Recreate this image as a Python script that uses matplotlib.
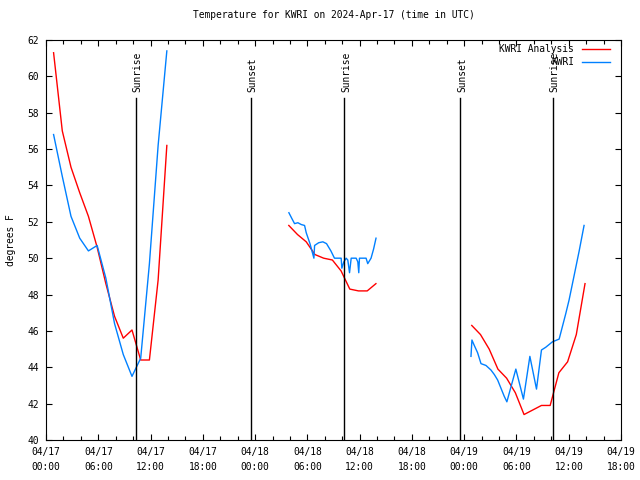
import numpy as np
import pandas as pd
import matplotlib
matplotlib.use("Agg")
import matplotlib.pyplot as plt
import matplotlib.dates as mdates

plt.rcParams['font.family'] = ['DejaVu Sans Mono']
plt.rcParams['font.size'] = 6.9

base = pd.Timestamp('2024-04-17 00:00')

# hours since 04/17 00:00 UTC
ana_h1 = [0.87, 1.87, 2.87, 3.87, 4.87, 5.87, 6.87, 7.87, 8.87, 9.87, 10.87, 11.87, 12.87, 13.87]
ana_t1 = [61.3, 57.0, 55.0, 53.6, 52.3, 50.6, 48.6, 46.8, 45.6, 46.05, 44.4, 44.4, 48.8, 56.2]
ana_h2 = [27.87, 28.87, 29.87, 30.87, 31.87, 32.87, 33.87, 34.87, 35.87, 36.87, 37.87]
ana_t2 = [51.8, 51.3, 50.9, 50.2, 50.0, 49.9, 49.3, 48.3, 48.2, 48.2, 48.6]
ana_h3 = [48.87, 49.87, 50.87, 51.87, 52.87, 53.87, 54.87, 55.87, 56.87, 57.87, 58.87, 59.87, 60.87, 61.87]
ana_t3 = [46.3, 45.8, 45.0, 43.9, 43.4, 42.6, 41.4, 41.65, 41.9, 41.9, 43.7, 44.3, 45.8, 48.6]

obs_h1 = [0.87, 1.87, 2.87, 3.87, 4.87, 5.87, 6.87, 7.87, 8.87, 9.87, 10.87, 11.87, 12.87, 13.87]
obs_t1 = [56.8, 54.5, 52.3, 51.1, 50.4, 50.7, 48.9, 46.4, 44.7, 43.5, 44.5, 49.7, 56.2, 61.4]
obs_h2 = [27.88, 28.2, 28.53, 28.91, 29.3, 29.68, 29.87, 30.3, 30.75, 30.83, 31.3, 31.78, 32.2,
          32.7, 33.11, 33.5, 33.88, 33.96, 34.19, 34.45, 34.64, 34.84, 35.03, 35.6, 35.79,
          35.9, 35.98, 36.74, 36.93, 37.31, 37.6, 37.88]
obs_t2 = [52.5, 52.2, 51.9, 51.95, 51.85, 51.8, 51.4, 50.8, 50.0, 50.7, 50.85, 50.9, 50.8,
          50.4, 50.0, 50.0, 50.0, 49.45, 49.8, 50.0, 49.9, 49.2, 50.0, 50.0, 49.8,
          49.2, 50.0, 50.0, 49.7, 50.0, 50.5, 51.1]
obs_h3 = [48.78, 48.89, 49.16, 49.54, 49.93, 50.5, 51.07, 51.46, 51.84, 52.22, 52.6, 52.9,
          53.93, 54.8, 55.54, 56.3, 56.87, 57.36, 58.13, 58.9, 59.66, 60.04, 60.6, 61.2, 61.76]
obs_t3 = [44.6, 45.5, 45.2, 44.8, 44.2, 44.1, 43.85, 43.6, 43.3, 42.85, 42.4, 42.1,
          43.9, 42.25, 44.6, 42.8, 44.95, 45.1, 45.4, 45.55, 46.95, 47.7, 49.0, 50.4, 51.8]

sun_h = [10.31, 23.49, 34.26, 47.55, 58.21]
sun_lbl = ['Sunrise', 'Sunset', 'Sunrise', 'Sunset', 'Sunrise']


def tt(h):
    return base + pd.to_timedelta(np.array(h), unit='h')


fig = plt.figure(figsize=(6.4, 4.8), dpi=100)
ax = fig.add_axes([46 / 640, 40 / 480, 575 / 640, 400 / 480])

for h, t in [(ana_h1, ana_t1), (ana_h2, ana_t2), (ana_h3, ana_t3)]:
    ax.plot(tt(h), t, color='#ff0000', lw=1.0)
for h, t in [(obs_h1, obs_t1), (obs_h2, obs_t2), (obs_h3, obs_t3)]:
    ax.plot(tt(h), t, color='#0080ff', lw=1.0)

for h, lb in zip(sun_h, sun_lbl):
    x = tt([h])[0]
    ax.plot([x, x], [40, 58.8], color='black', lw=1.0)
    ax.text(x + pd.Timedelta(minutes=12), 59.15, lb, rotation=90, ha='center', va='bottom')

ax.set_xlim(base, base + pd.Timedelta(hours=66))
ax.set_ylim(40, 62)
ax.set_yticks(np.arange(40, 63, 2))
ax.xaxis.set_major_locator(mdates.HourLocator(byhour=[0, 6, 12, 18]))
ax.xaxis.set_minor_locator(mdates.HourLocator(interval=2))
ax.xaxis.set_major_formatter(mdates.DateFormatter('%m/%d\n%H:%M'))
ax.tick_params(direction='in', top=True, right=True, length=4, width=0.8, pad=5)
ax.tick_params(which='minor', direction='in', top=True, length=3, width=0.8)
for lab in ax.get_xticklabels():
    lab.set_linespacing(1.6)
ax.set_ylabel('degrees F', labelpad=8)
ax.set_title('Temperature for KWRI on 2024-Apr-17 (time in UTC)', fontsize=6.9, pad=16)

# legend, gnuplot style
ax.text((574 - 46) / 575, 1 - 9 / 400, 'KWRI Analysis', transform=ax.transAxes,
        ha='right', va='center')
ax.text((574 - 46) / 575, 1 - 22 / 400, 'KWRI', transform=ax.transAxes, ha='right', va='center')
ax.plot([(582 - 46) / 575, (610 - 46) / 575], [1 - 9 / 400] * 2, color='#ff0000', lw=1.0,
        transform=ax.transAxes)
ax.plot([(582 - 46) / 575, (610 - 46) / 575], [1 - 22 / 400] * 2, color='#0080ff', lw=1.0,
        transform=ax.transAxes)

fig.savefig('out.png', dpi=100)
